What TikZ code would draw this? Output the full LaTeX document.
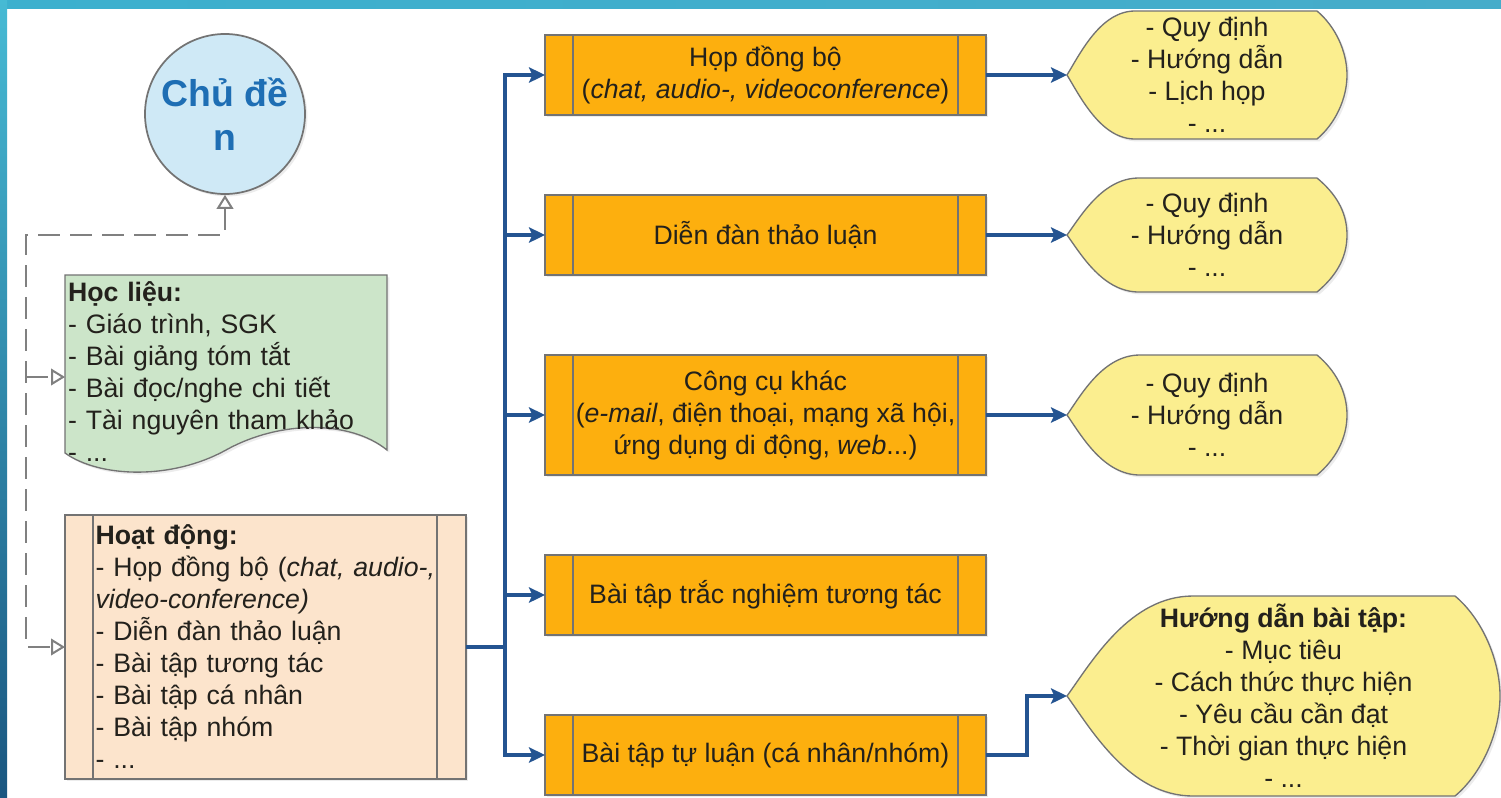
\documentclass[tikz,border=0pt]{standalone}
\usepackage{fontspec}
\setmainfont{Liberation Sans}
\usetikzlibrary{arrows.meta,calc,backgrounds,shadows}
\definecolor{bordergray}{RGB}{115,115,115}
\definecolor{orangefill}{RGB}{253,175,14}
\definecolor{peachfill}{RGB}{252,228,204}
\definecolor{greenfill}{RGB}{204,229,201}
\definecolor{yellowfill}{RGB}{251,238,143}
\definecolor{bluefill}{RGB}{207,233,246}
\definecolor{bluetext}{RGB}{30,110,180}
\definecolor{connblue}{RGB}{36,84,145}
\definecolor{dashgray}{RGB}{128,128,128}
\definecolor{textdark}{RGB}{35,33,28}
\definecolor{stripA}{RGB}{70,186,212}
\definecolor{stripB}{RGB}{26,86,128}
\definecolor{topA}{RGB}{60,176,206}
\definecolor{topB}{RGB}{92,197,218}
\definecolor{topC}{RGB}{70,172,202}
\newcommand\bodyfont{\fontsize{20pt}{24pt}\selectfont}
\newcommand\dispshape[4]{%
  \draw[yshape] (#1.west) .. controls ($(#1.west)+(0.2*#2,-0.35*#4)$) and ($(#1.north west)+(0.5*#2,0)$) .. ($(#1.north west)+(#2,0)$)
   -- ($(#1.north east)+(-#3,0)$) .. controls ($(#1.north east)+(-0.4*#3,0.5*#3)$) and ($(#1.east)+(0,-0.8*#3)$) .. (#1.east)
   .. controls ($(#1.east)+(0,0.8*#3)$) and ($(#1.south east)+(-0.4*#3,-0.5*#3)$) .. ($(#1.south east)+(-#3,0)$)
   -- ($(#1.south west)+(#2,0)$) .. controls ($(#1.south west)+(0.5*#2,0)$) and ($(#1.west)+(0.2*#2,0.35*#4)$) .. cycle;}
\tikzset{
  softshadow/.style={drop shadow={shadow xshift=1.8pt,shadow yshift=-1.8pt,opacity=0.15}},
  obox/.style={draw=bordergray, line width=1pt, fill=orangefill, minimum width=330.75pt, minimum height=60pt,
    inner sep=0pt, outer sep=0pt, align=center, font=\bodyfont, text=textdark, softshadow},
  innerline/.style={draw=bordergray, line width=1pt},
  ynode/.style={inner sep=0pt, outer sep=0pt, align=center, font=\bodyfont, text=textdark},
  yshape/.style={fill=yellowfill, draw=bordergray, line width=1pt, softshadow},
  docshape/.style={fill=greenfill, draw=bordergray, line width=1pt, softshadow},
  graydash/.style={draw=dashgray, line width=1.5pt, dash pattern=on 16.5pt off 7.5pt},
  opentip/.tip={Triangle[open, length=10.5pt, width=12.5pt]},
  bline/.style={draw=connblue, line width=2.5pt},
  barrow/.style={bline, -{Stealth[length=12pt, width=11.5pt, inset=2.5pt]}},
}
\begin{document}
\begin{tikzpicture}[x=0.75pt, y=-0.75pt]
\useasboundingbox (0,0) rectangle (1501,797);
\begin{pgfonlayer}{background}
\fill[white] (0,0) rectangle (1501,797);
\end{pgfonlayer}

% topic circle
\node[circle, draw=bordergray, line width=1.3pt, fill=bluefill, minimum size=120pt, inner sep=0pt,
  align=center, text=bluetext, font=\fontsize{28pt}{33pt}\selectfont\bfseries, softshadow]
  (topic) at (225,114) {Chủ đề\\n};

% Hoc lieu document shape
\draw[docshape] (65,275) -- (387,275) -- (387,450) .. controls (350,420) and (280,420) .. (226,450)
  .. controls (172,480) and (100,478) .. (65,453) -- cycle;
\node[inner sep=0pt, outer sep=0pt, minimum width=241.5pt, text width=237pt, align=left,
  font=\bodyfont, text=textdark] (hl) at (226,372)
  {\textbf{Học liệu:}\\- Giáo trình, SGK\\- Bài giảng tóm tắt\\- Bài đọc/nghe chi tiết\\- Tài nguyên tham khảo\\- ...};

% Hoat dong box
\node[draw=bordergray, line width=1pt, fill=peachfill, minimum width=300.75pt, minimum height=198pt,
  inner sep=0pt, outer sep=0pt, text width=255pt, align=left, font=\bodyfont, text=textdark, softshadow]
  (hd) at (265.5,647)
  {\textbf{Hoạt động:}\\- Họp đồng bộ (\textit{chat, audio-,}\\\textit{video-conference)}\\- Diễn đàn thảo luận\\- Bài tập tương tác\\- Bài tập cá nhân\\- Bài tập nhóm\\- ...};
\draw[innerline] ($(hd.north west)+(28,0)$) -- ($(hd.south west)+(28,0)$)
  ($(hd.north east)+(-29,0)$) -- ($(hd.south east)+(-29,0)$);

% orange boxes
\node[obox] (o1) at (765.5,75) {Họp đồng bộ\\(\textit{chat, audio-, videoconference})};
\node[obox] (o2) at (765.5,235) {Diễn đàn thảo luận};
\node[obox, minimum height=90pt] (o3) at (765.5,415) {Công cụ khác\\(\textit{e-mail}, điện thoại, mạng xã hội,\\ứng dụng di động, \textit{web}...)};
\node[obox] (o4) at (765.5,595) {Bài tập trắc nghiệm tương tác};
\node[obox] (o5) at (765.5,755) {Bài tập tự luận (cá nhân/nhóm)};
\foreach \n in {o1,o2,o3,o4,o5}{
  \draw[innerline] ($(\n.north west)+(28,0)$) -- ($(\n.south west)+(28,0)$)
    ($(\n.north east)+(-28,0)$) -- ($(\n.south east)+(-28,0)$);
}

% yellow display shapes
\node[ynode, minimum width=210pt, minimum height=96pt] (y1) at (1207,75) {- Quy định\\- Hướng dẫn\\- Lịch họp\\- ...};
\node[ynode, minimum width=210pt, minimum height=85.5pt] (y2) at (1207,235) {- Quy định\\- Hướng dẫn\\- ...};
\node[ynode, minimum width=210pt, minimum height=90pt] (y3) at (1207,415) {- Quy định\\- Hướng dẫn\\- ...};
\node[ynode, minimum width=324.75pt, minimum height=150pt] (y4) at (1283.5,696)
  {\textbf{Hướng dẫn bài tập:}\\- Mục tiêu\\- Cách thức thực hiện\\- Yêu cầu cần đạt\\- Thời gian thực hiện\\- ...};
\begin{pgfonlayer}{background}
\dispshape{y1}{68}{30}{64}
\dispshape{y2}{72}{30}{57}
\dispshape{y3}{73}{30}{60}
\dispshape{y4}{126}{45}{100}
\end{pgfonlayer}

% gray dashed connectors
\coordinate (dcorner) at (26,235);
\coordinate (dh) at (26,377);
\draw[graydash, {opentip}-{opentip}] (topic.south) |- (dcorner) |- (hd.west);
\draw[graydash, -{opentip}] (dh) -- (dh -| hl.west);

% blue connectors
\coordinate (trunk) at (505,647);
\draw[bline] (hd.east) -- (trunk);
\foreach \n in {o1,o2,o3,o4,o5}{
  \draw[barrow] (trunk) |- (\n.west);
}
\draw[barrow] (o1.east) -- (y1.west);
\draw[barrow] (o2.east) -- (y2.west);
\draw[barrow] (o3.east) -- (y3.west);
\draw[barrow] (o5.east) -- ++(41,0) |- (y4.west);

% frame strips
\shade[left color=topA, middle color=topB, right color=topC] (0,0) rectangle (1501,8);
\shade[top color=stripA, bottom color=stripB] (0,0) rectangle (7,797);
\end{tikzpicture}
\end{document}
